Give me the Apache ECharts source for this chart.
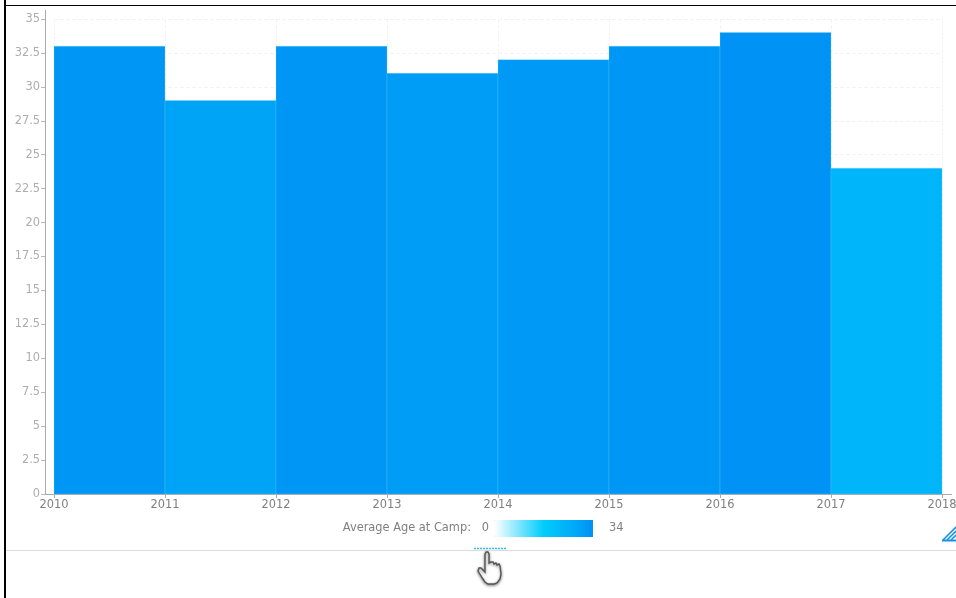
<!DOCTYPE html>
<html>
<head>
<meta charset="utf-8">
<style>html,body{margin:0;padding:0;background:#fff}#c{width:956px;height:598px}</style>
<script src="https://cdn.jsdelivr.net/npm/echarts@6/dist/echarts.min.js"></script>
</head>
<body>
<div id="c"></div>
<script>
const startYears = [2010, 2011, 2012, 2013, 2014, 2015, 2016, 2017];
const averageAge = [33, 29, 33, 31, 32, 33, 34, 24];
const legendTitle = 'Average Age at Camp:';
const legendMin = 0;
const legendMax = 34;
const legendColors = ['#ffffff', '#00cdfc', '#0093f5'];

const font = 'DejaVu Sans';
const chart = echarts.init(document.getElementById('c'), null, {renderer: 'canvas'});
const seriesData = startYears.map((y, i) => [y, averageAge[i]]);
const handOutline = [[485,554],[486,552],[488,552],[489,554],[489,563],[491,562],[493,562],[494,564],[496,563],[497,565],[499,564],[500,566],[501,574],[500,579],[497,583],[494,584],[488,584],[485,582],[483,579],[478,571],[479,568],[481,568],[485,572]];
const legendText = (x, text, align) => ({type: 'text', z: 100, silent: true, style: {x, y: 528.5, text, align, verticalAlign: 'middle',
  fill: '#7f7f7f', font: '11.4px "DejaVu Sans"'}});

chart.setOption({
  animation: false,
  backgroundColor: '#fff',
  grid: {left: 54, right: 14, top: 19, bottom: 104, outerBoundsMode: 'none'},
  xAxis: {
    type: 'value', min: 2010, max: 2018, interval: 1,
    axisLine: {show: true, onZero: false, lineStyle: {color: '#aaa'}},
    axisTick: {show: true, length: 4, lineStyle: {color: '#aaa'}},
    axisLabel: {color: '#7f7f7f', fontFamily: font, fontSize: 11.4, margin: 6, hideOverlap: false,
      showMinLabel: true, showMaxLabel: true, formatter: v => String(v)},
    splitLine: {show: true, lineStyle: {color: '#f3f3f3', type: 'dashed'}}
  },
  yAxis: {
    type: 'value', min: 0, max: 35, interval: 2.5, offset: 9,
    axisLine: {show: true, lineStyle: {color: '#aaa'}},
    axisTick: {show: true, length: 4, lineStyle: {color: '#bbb'}},
    axisLabel: {color: '#adadad', fontFamily: font, fontSize: 11.4, margin: 5, formatter: v => String(v)},
    splitLine: {show: true, lineStyle: {color: '#f3f3f3', type: 'dashed'}}
  },
  visualMap: {
    type: 'continuous', min: legendMin, max: legendMax, dimension: 1, seriesIndex: 0,
    orient: 'horizontal', left: 494, top: 520, itemWidth: 17, itemHeight: 99,
    showLabel: false, calculable: false, hoverLink: false, padding: 0, text: null,
    inRange: {color: legendColors}
  },
  series: [{
    type: 'custom',
    encode: {x: 0, y: 1},
    data: seriesData,
    clip: false,
    renderItem: (params, api) => {
      const p0 = api.coord([api.value(0), api.value(1)]);
      const p1 = api.coord([api.value(0) + 1, 0]);
      return {
        type: 'rect',
        shape: {x: p0[0], y: p0[1], width: p1[0] - p0[0], height: p1[1] - p0[1]},
        style: {fill: api.visual('color'), stroke: 'rgba(120,215,255,0.25)', lineWidth: 1}
      };
    }
  }],
  graphic: [
    {type: 'rect', z: 100, silent: true, shape: {x: 4, y: 0, width: 2, height: 598}, style: {fill: '#000'}},
    {type: 'rect', z: 100, silent: true, shape: {x: 4, y: 5, width: 952, height: 1}, style: {fill: '#000'}},
    {type: 'rect', z: 100, silent: true, shape: {x: 589, y: 520, width: 4, height: 17}, style: {fill: legendColors[2]}},
    {type: 'line', z: 100, silent: true, shape: {x1: 6, y1: 550.5, x2: 956, y2: 550.5}, style: {stroke: '#dcdcdc', lineWidth: 1}},
    {type: 'line', z: 100, silent: true, shape: {x1: 45.5, y1: 10, x2: 45.5, y2: 19}, style: {stroke: '#aaa', lineWidth: 1}},
    {type: 'line', z: 100, silent: true, shape: {x1: 45, y1: 494.5, x2: 54, y2: 494.5}, style: {stroke: '#aaa', lineWidth: 1}},
    {type: 'line', z: 100, silent: true, shape: {x1: 942, y1: 494.5, x2: 952, y2: 494.5}, style: {stroke: '#aaa', lineWidth: 1}},
    legendText(471, legendTitle, 'right'),
    legendText(489, String(legendMin), 'right'),
    legendText(609, String(legendMax), 'left'),
    {type: 'line', z: 100, silent: true, shape: {x1: 474, y1: 548.5, x2: 507, y2: 548.5}, style: {stroke: '#2cc0ee', lineWidth: 1.5, lineDash: [2, 1]}},
    {type: 'line', z: 100, silent: true, shape: {x1: 942, y1: 540.5, x2: 956, y2: 540.5}, style: {stroke: '#1493e6', lineWidth: 2}},
    {type: 'line', z: 100, silent: true, shape: {x1: 943, y1: 540, x2: 956, y2: 527}, style: {stroke: '#1493e6', lineWidth: 1.6}},
    {type: 'line', z: 100, silent: true, shape: {x1: 947, y1: 540, x2: 956, y2: 531}, style: {stroke: '#1493e6', lineWidth: 1.6}},
    {type: 'line', z: 100, silent: true, shape: {x1: 951, y1: 540, x2: 956, y2: 535}, style: {stroke: '#1493e6', lineWidth: 1.6}},
    {type: 'polygon', z: 100, silent: true, shape: {points: handOutline},
      style: {fill: '#fff', stroke: '#555', lineWidth: 1.4, shadowBlur: 3, shadowColor: 'rgba(0,0,0,0.45)', shadowOffsetY: 1}}
  ]
});
</script>
</body>
</html>
